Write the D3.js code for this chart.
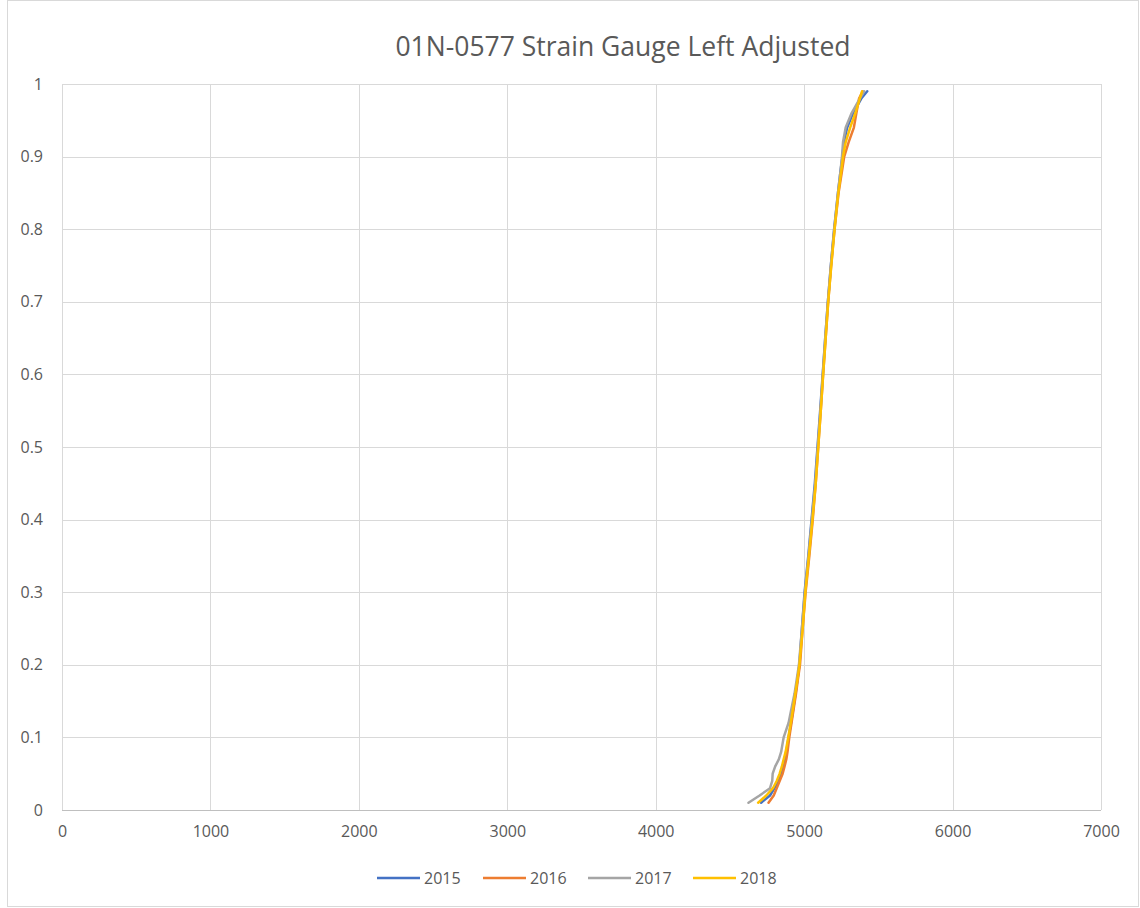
<!DOCTYPE html>
<html><head><meta charset="utf-8">
<script src="https://cdn.jsdelivr.net/npm/d3@7/dist/d3.min.js"></script>
<style>body{margin:0;background:#fff;}svg{display:block;}</style>
</head><body>
<svg id="chart" width="1140" height="908"></svg>
<script>
const title = "01N-0577 Strain Gauge Left Adjusted";
const seriesNames = ["2015", "2016", "2017", "2018"];
const probLevels = [0.01,0.02,0.03,0.04,0.05,0.06,0.07,0.08,0.10,0.12,0.14,0.16,0.18,0.20,0.25,0.30,0.35,0.40,0.45,0.50,0.55,0.60,0.65,0.70,0.75,0.80,0.85,0.88,0.90,0.92,0.94,0.96,0.98,0.99];
const strain2015 = [4710,4770,4800,4825,4845,4858,4870,4880,4895,4912,4927,4942,4955,4968,4985,5003,5028,5050,5072,5090,5108,5125,5142,5160,5180,5202,5228,5245,5258,5268,5290,5330,5385,5425];
const strain2016 = [4760,4795,4815,4835,4855,4868,4880,4888,4900,4915,4930,4945,4958,4972,4990,5010,5035,5058,5078,5095,5112,5128,5145,5162,5182,5205,5232,5255,5270,5300,5335,5352,5370,5395];
const strain2017 = [4625,4700,4770,4785,4788,4805,4830,4845,4862,4895,4915,4935,4950,4965,4985,5005,5030,5052,5075,5092,5110,5126,5142,5160,5180,5203,5228,5245,5255,5262,5280,5320,5375,5405];
const strain2018 = [4690,4745,4790,4815,4835,4850,4862,4875,4893,4910,4925,4940,4955,4968,4990,5008,5032,5056,5078,5095,5112,5128,5145,5162,5183,5205,5230,5250,5262,5280,5310,5345,5375,5390];
const xTicks = [0,1000,2000,3000,4000,5000,6000,7000];
const yTicks = [0,0.1,0.2,0.3,0.4,0.5,0.6,0.7,0.8,0.9,1];
const colors = ["#4472C4","#ED7D31","#A5A5A5","#FFC000"];

const allSeries = [strain2015, strain2016, strain2017, strain2018];
const svg = d3.select("#chart");
const font = "'Open Sans', 'Liberation Sans', sans-serif";
const m = {left:62, right:1101, top:84, bottom:810};

svg.append("rect").attr("x",7.5).attr("y",0.5).attr("width",1131).attr("height",906)
  .attr("fill","#fff").attr("stroke","#d9d9d9");

const x = d3.scaleLinear().domain([0,7000]).range([m.left, m.right]);
const y = d3.scaleLinear().domain([0,1]).range([m.bottom, m.top]);

// gridlines
svg.append("g").selectAll("line.h").data(yTicks).join("line")
  .attr("x1",m.left).attr("x2",m.right)
  .attr("y1",d=>Math.round(y(d))+0.5).attr("y2",d=>Math.round(y(d))+0.5)
  .attr("stroke",d=>d===0?"#bfbfbf":"#d9d9d9").attr("stroke-width",1);
svg.append("g").selectAll("line.v").data(xTicks).join("line")
  .attr("y1",m.top).attr("y2",m.bottom)
  .attr("x1",d=>Math.round(x(d))+0.5).attr("x2",d=>Math.round(x(d))+0.5)
  .attr("stroke","#d9d9d9").attr("stroke-width",1);

// axes labels via d3 axes
const xAxis = d3.axisBottom(x).tickValues(xTicks).tickSize(0).tickPadding(16).tickFormat(d3.format("d"));
const gx = svg.append("g").attr("transform",`translate(0,${m.bottom})`).call(xAxis);
gx.select(".domain").remove();
gx.selectAll("text").attr("font-family",font).attr("font-size",16).attr("fill","#595959");

const yAxis = d3.axisLeft(y).tickValues(yTicks).tickSize(0).tickPadding(19).tickFormat(d=>d3.format("")(+d.toFixed(1)));
const gy = svg.append("g").attr("transform",`translate(${m.left},0)`).call(yAxis);
gy.select(".domain").remove();
gy.selectAll("text").attr("font-family",font).attr("font-size",16).attr("fill","#595959");

// lines
const line = d3.line().x(d=>x(d[0])).y(d=>y(d[1]));
allSeries.forEach((s,i)=>{
  const pts = s.map((v,j)=>[v, probLevels[j]]);
  svg.append("path").datum(pts).attr("d",line)
    .attr("fill","none").attr("stroke",colors[i]).attr("stroke-width",2.5)
    .attr("stroke-linejoin","round").attr("stroke-linecap","round");
});

// title
svg.append("text").attr("x",623).attr("y",56).attr("text-anchor","middle")
  .attr("font-family",font).attr("font-size",26.5).attr("fill","#595959").text(title);

// legend
const legendX = [377, 483, 588, 693];
const lg = svg.append("g");
seriesNames.forEach((n,i)=>{
  lg.append("line").attr("x1",legendX[i]).attr("x2",legendX[i]+43)
    .attr("y1",878).attr("y2",878).attr("stroke",colors[i]).attr("stroke-width",2.5);
  lg.append("text").attr("x",legendX[i]+47).attr("y",884)
    .attr("font-family",font).attr("font-size",16).attr("fill","#595959").text(n);
});
</script>
</body></html>
